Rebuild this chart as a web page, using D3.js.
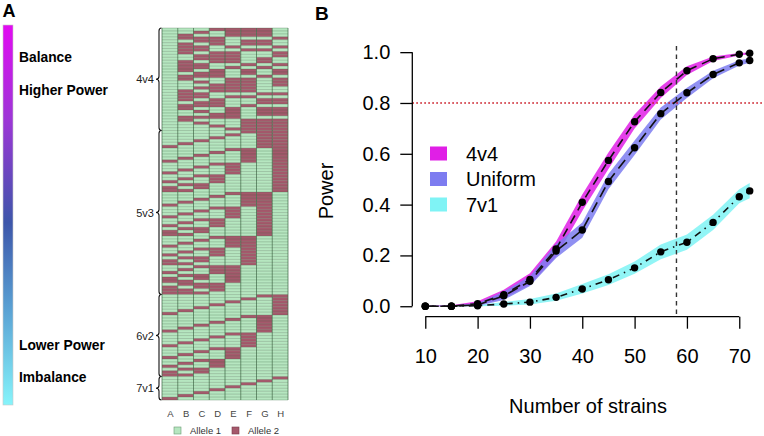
<!DOCTYPE html>
<html><head><meta charset="utf-8">
<script src="https://cdn.jsdelivr.net/npm/d3@7"></script>
<style>
body{margin:0;background:#fff}
svg{display:block}
text{font-family:"Liberation Sans",Arial,Helvetica,sans-serif}
</style>
</head><body>
<svg id="chart" width="764" height="436"></svg>
<script>
// ---------------- Panel A data ----------------
const alleleColumns = ["A","B","C","D","E","F","G","H"];
const groupNames = ["4v4","5v3","6v2","7v1"];
// 1 = Allele 2, 0 = Allele 1, columns A..H
const rows4v4 = ["00011110","00101110","01001110","01110001","00110110","01010110","01101001","01100110",
"01011001","00111001","00111010","01011010","01100101","01101010","01010101","00110101","01110010",
"01001101","00101101","00011101","00111100","01011100","01100011","01101100","01010011","00110011",
"01110100","01001011","00101011","00011011","01111000","01000111","00100111","00010111","00001111"];
const rows5v3 = ["00000111","00001011","00010011","00100011","01000011","10000011","00001101","00010101",
"00100101","01000101","10000101","00011001","00101001","01001001","10001001","00110001","01010001",
"10010001","01100001","10100001","11000001","00001110","00010110","00100110","01000110","10000110",
"00011010","00101010","01001010","10001010","00110010","01010010","10010010","01100010","10100010",
"11000010","00011100","00101100","01001100","10001100","00110100","01010100","10010100","01100100",
"10100100","11000100","00111000","01011000","10011000","01101000","10101000","11001000","01110000",
"10110000","11010000","11100000"];
const rows6v2 = ["00000011","00000101","00001001","00010001","00100001","01000001","10000001","00000110",
"00001010","00010010","00100010","01000010","10000010","00001100","00010100","00100100","01000100",
"10000100","00011000","00101000","01001000","10001000","00110000","01010000","10010000","01100000",
"10100000","11000000"];
const rows7v1 = ["00000001","00000010","00000100","00001000","00010000","00100000","01000000","10000000"];
const scaleLabelsTop = ["Balance","Higher Power"];
const scaleLabelsBottom = ["Lower Power","Imbalance"];
const alleleLegend = ["Allele 1","Allele 2"];

// ---------------- Panel B data ----------------
const strains = [10,15,20,25,30,35,40,45,50,55,60,65,70,72];
const seriesNames = ["4v4","Uniform","7v1"];
const power4v4    = [0,0,0.010,0.045,0.105,0.225,0.409,0.574,0.726,0.841,0.927,0.974,0.992,0.996];
const low4v4      = [0,0,0.003,0.030,0.085,0.195,0.375,0.540,0.700,0.820,0.910,0.965,0.987,0.992];
const high4v4     = [0.002,0.004,0.020,0.065,0.130,0.255,0.440,0.605,0.755,0.865,0.945,0.983,0.997,0.999];
const powerUniform= [0,0,0.005,0.041,0.098,0.217,0.300,0.491,0.624,0.758,0.840,0.912,0.958,0.967];
const lowUniform  = [0,0,0.001,0.025,0.080,0.190,0.270,0.460,0.595,0.735,0.820,0.897,0.948,0.958];
const highUniform = [0.002,0.003,0.012,0.058,0.118,0.245,0.330,0.520,0.652,0.782,0.860,0.927,0.968,0.976];
const power7v1    = [0,0,0.002,0.009,0.016,0.035,0.068,0.104,0.151,0.214,0.252,0.330,0.431,0.454];
const low7v1      = [0,0,0,0.002,0.007,0.022,0.050,0.084,0.128,0.185,0.222,0.300,0.405,0.425];
const high7v1     = [0.001,0.002,0.005,0.017,0.028,0.050,0.088,0.126,0.176,0.243,0.282,0.360,0.460,0.485];
const xTicks = [10,20,30,40,50,60,70];
const yTicks = [0,0.2,0.4,0.6,0.8,1.0];
const powerThreshold = 0.8;
const strainMarker = 58;

// ---------------- drawing ----------------
const svg = d3.select("#chart");
svg.append("rect").attr("width",764).attr("height",436).attr("fill","#fff");
const font = "'Liberation Sans',Arial,Helvetica,sans-serif";

// Panel labels
svg.append("text").attr("x",2.5).attr("y",17).attr("font-size",18).attr("font-weight","bold").text("A");
svg.append("text").attr("x",315).attr("y",20).attr("font-size",19).attr("font-weight","bold").text("B");

// Gradient bar
const defs = svg.append("defs");
const grad = defs.append("linearGradient").attr("id","pw").attr("x1",0).attr("y1",0).attr("x2",0).attr("y2",1);
[[0,"#e20af2"],[0.25,"#9c36d6"],[0.52,"#3d56aa"],[0.75,"#5aa2d4"],[1,"#86f4fb"]].forEach(s=>
  grad.append("stop").attr("offset",s[0]).attr("stop-color",s[1]));
svg.append("rect").attr("x",3).attr("y",25).attr("width",10).attr("height",380)
  .attr("fill","url(#pw)").attr("stroke","#c8c8c8").attr("stroke-width",0.6);
const scaleLabelY = d3.scalePoint().domain(scaleLabelsTop).range([61.5,94.5]);
svg.selectAll(".sl1").data(scaleLabelsTop).join("text").attr("x",19).attr("y",d=>scaleLabelY(d))
  .attr("font-size",13.8).attr("font-weight","bold").text(d=>d);
const scaleLabelY2 = d3.scalePoint().domain(scaleLabelsBottom).range([350,382.3]);
svg.selectAll(".sl2").data(scaleLabelsBottom).join("text").attr("x",19).attr("y",d=>scaleLabelY2(d))
  .attr("font-size",13.8).attr("font-weight","bold").text(d=>d);

// Heatmap
const allRows = [].concat(rows4v4, rows5v3, rows6v2, rows7v1);
const hx = d3.scaleBand().domain(alleleColumns).range([162,288]);
const hy = d3.scaleBand().domain(d3.range(allRows.length)).range([28,400]);
const green = "#b6e6c0", maroon = "#a5596c";
const cells = [];
allRows.forEach((r,i)=>alleleColumns.forEach((c,j)=>cells.push({i,c,v:+r[j]})));
const hm = svg.append("g");
hm.selectAll("rect").data(cells).join("rect")
  .attr("x",d=>hx(d.c)).attr("y",d=>hy(d.i)).attr("width",hx.bandwidth()).attr("height",hy.bandwidth()+0.05)
  .attr("fill",d=>d.v?maroon:green);
hm.selectAll(".rl").data(d3.range(allRows.length+1)).join("line")
  .attr("x1",162).attr("x2",288)
  .attr("y1",d=>28+d*hy.step()).attr("y2",d=>28+d*hy.step())
  .attr("stroke","#2f5a36").attr("stroke-opacity",0.45).attr("stroke-width",0.6);
hm.selectAll(".cl").data(d3.range(alleleColumns.length+1)).join("line")
  .attr("x1",d=>162+d*hx.step()).attr("x2",d=>162+d*hx.step())
  .attr("y1",28).attr("y2",400)
  .attr("stroke","#3e6a46").attr("stroke-opacity",0.8).attr("stroke-width",0.9);

// Braces
const groupSizes = [rows4v4.length, rows5v3.length, rows6v2.length, rows7v1.length];
let start = 0;
groupNames.forEach((g,k)=>{
  const y0 = 28 + start*hy.step(), y1 = 28 + (start+groupSizes[k])*hy.step();
  start += groupSizes[k];
  const ym = (y0+y1)/2, bx = 159, r = Math.min(3,(y1-y0)/4);
  const p = d3.path();
  p.moveTo(bx+2.5,y0);
  p.quadraticCurveTo(bx,y0,bx,y0+r);
  p.lineTo(bx,ym-r);
  p.quadraticCurveTo(bx,ym,bx-3,ym);
  p.quadraticCurveTo(bx,ym,bx,ym+r);
  p.lineTo(bx,y1-r);
  p.quadraticCurveTo(bx,y1,bx+2.5,y1);
  svg.append("path").attr("d",p.toString()).attr("fill","none").attr("stroke","#111").attr("stroke-width",1.1);
  svg.append("text").attr("x",154).attr("y",ym+4).attr("text-anchor","end").attr("font-size",11)
    .attr("fill","#222").text(g);
});

// Column labels
svg.selectAll(".collab").data(alleleColumns).join("text")
  .attr("x",d=>hx(d)+hx.bandwidth()/2+0.5).attr("y",417).attr("text-anchor","middle")
  .attr("font-size",9.5).attr("fill","#444").text(d=>d);

// Allele legend
const alx = d3.scalePoint().domain(alleleLegend).range([174,232]);
svg.selectAll(".alsq").data(alleleLegend).join("rect")
  .attr("x",d=>alx(d)).attr("y",427).attr("width",7).attr("height",7)
  .attr("fill",(d,i)=>i?maroon:green).attr("stroke",(d,i)=>i?"#7a3a4a":"#6a9a72").attr("stroke-width",0.6);
svg.selectAll(".altx").data(alleleLegend).join("text")
  .attr("x",d=>alx(d)+16).attr("y",434).attr("font-size",9.5).attr("fill","#333").text(d=>d);

// ---------------- Panel B ----------------
const x = d3.scaleLinear().domain([7.52,74.48]).range([412.3,762.7]);
const y = d3.scaleLinear().domain([-0.04,1.04]).range([316.4,42.0]);

const series = [
  {name:"7v1", p:power7v1, lo:low7v1, hi:high7v1, col:"#7ff3f5", dash:"1.5,5,7,5"},
  {name:"4v4", p:power4v4, lo:low4v4, hi:high4v4, col:"#e01fe6", dash:"9,6"},
  {name:"Uniform", p:powerUniform, lo:lowUniform, hi:highUniform, col:"#7d7cf0", dash:"11,6"}
];
const area = d3.area().x(d=>x(d.s)).y0(d=>y(d.lo)).y1(d=>y(d.hi));
const line = d3.line().x(d=>x(d.s)).y(d=>y(d.p));
const pg = svg.append("g");
series.forEach(s=>{
  const pts = strains.map((st,i)=>({s:st,p:s.p[i],lo:s.lo[i],hi:s.hi[i]}));
  s.pts = pts;
  pg.append("path").attr("d",area(pts)).attr("fill",s.col).attr("fill-opacity",0.85);
});
pg.append("line").attr("x1",x.range()[0]).attr("x2",x.range()[1])
  .attr("y1",y(powerThreshold)).attr("y2",y(powerThreshold))
  .attr("stroke","#c8141f").attr("stroke-width",1.3).attr("stroke-dasharray","1.6,2.4");
pg.append("line").attr("x1",x(strainMarker)).attr("x2",x(strainMarker))
  .attr("y1",y.range()[1]+4).attr("y2",y.range()[0])
  .attr("stroke","#333").attr("stroke-width",1.4).attr("stroke-dasharray","4.5,4");
series.forEach(s=>{
  pg.append("path").attr("d",line(s.pts)).attr("fill","none").attr("stroke","#111")
    .attr("stroke-width",1.6).attr("stroke-dasharray",s.dash);
});
series.forEach(s=>{
  pg.selectAll(null).data(s.pts).join("circle").attr("cx",d=>x(d.s)).attr("cy",d=>y(d.p))
    .attr("r",3.7).attr("fill","#000");
});

// Axes
const yAxis = svg.append("g").attr("transform","translate(412.3,0)")
  .call(d3.axisLeft(y).tickValues(yTicks).tickFormat(d3.format(".1f")).tickSize(12).tickPadding(10));
const xAxis = svg.append("g").attr("transform","translate(0,316.7)")
  .call(d3.axisBottom(x).tickValues(xTicks).tickSize(12).tickPadding(20));
[yAxis,xAxis].forEach(a=>{
  a.select(".domain").remove();
  a.selectAll(".tick line").attr("stroke","#000").attr("stroke-width",1.3);
  a.selectAll("text").attr("font-size",20).attr("font-family",font).attr("fill","#000");
});
yAxis.append("line").attr("x1",0).attr("x2",0).attr("y1",y(0)).attr("y2",y(1)).attr("stroke","#000").attr("stroke-width",1.3);
xAxis.append("line").attr("x1",x(10)).attr("x2",x(70)).attr("y1",0).attr("y2",0).attr("stroke","#000").attr("stroke-width",1.3);

svg.append("text").attr("transform","translate(333,191) rotate(-90)").attr("text-anchor","middle")
  .attr("font-size",20).text("Power");
svg.append("text").attr("x",588).attr("y",413).attr("text-anchor","middle")
  .attr("font-size",20).text("Number of strains");

// Legend
const legendOrder = ["4v4","Uniform","7v1"];
const ly = d3.scalePoint().domain(legendOrder).range([153.5,204.5]);
legendOrder.forEach(n=>{
  const s = series.find(t=>t.name===n);
  svg.append("rect").attr("x",430).attr("y",ly(n)-7).attr("width",17).attr("height",14).attr("fill",s.col);
  svg.append("text").attr("x",466).attr("y",ly(n)+7).attr("font-size",20).text(n);
});
</script>
</body></html>
